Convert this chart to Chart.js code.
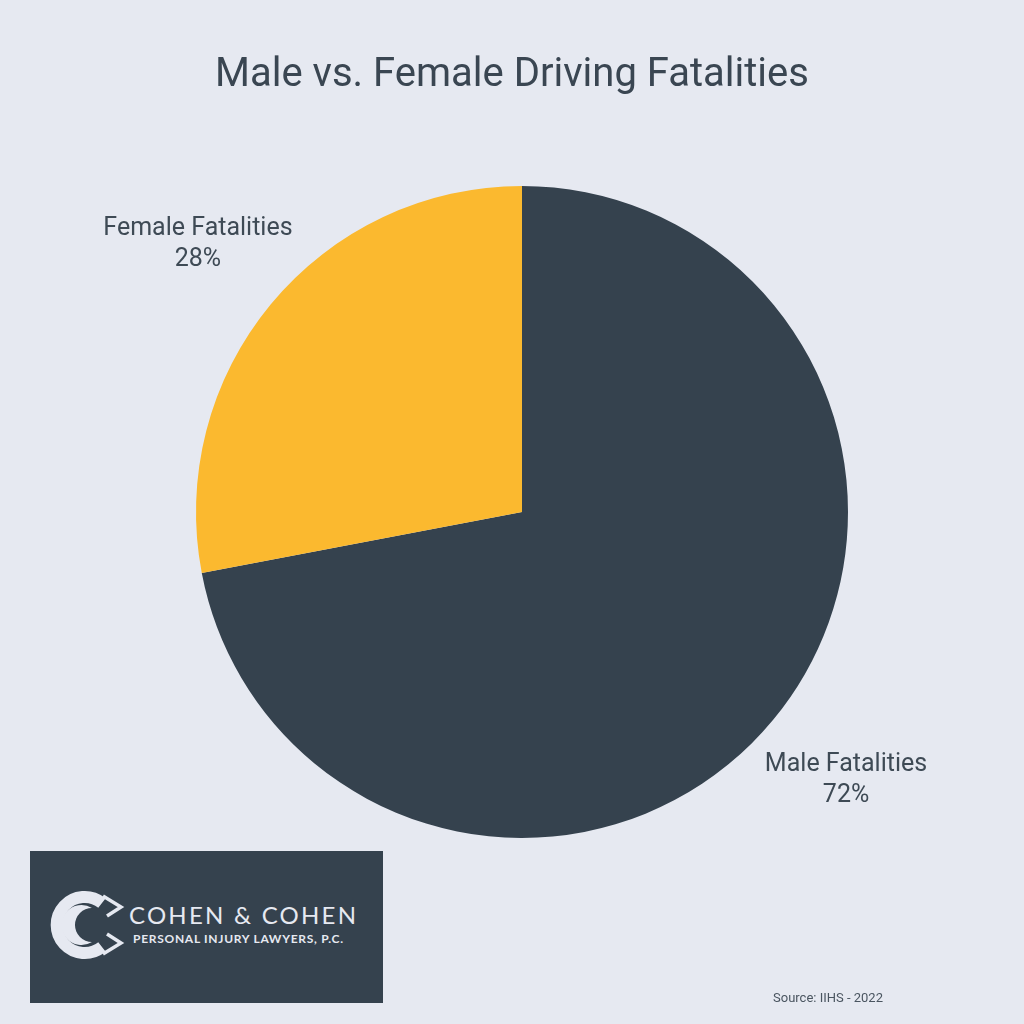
<!DOCTYPE html>
<html>
<head>
<meta charset="utf-8">
<script src="https://cdn.jsdelivr.net/npm/chart.js@4"></script>
<style>
  html, body { margin:0; padding:0; background:#E6E9F1; }
  #wrap { position:relative; width:1024px; height:1024px; }
  canvas { position:absolute; left:0; top:0; }
  #title { position:absolute; left:0; top:49px; width:1024px; text-align:center; font-family:Roboto, sans-serif; font-size:40px; line-height:48px; color:#3A4652; }
  #logo { position:absolute; left:30px; top:851px; width:353px; height:152px; background:#35424E; }
  #logo svg { position:absolute; left:0; top:0; }
  #source { position:absolute; left:773px; top:990px; font-family:Roboto, sans-serif; font-size:13px; color:#4A5560; }
</style>
</head>
<body>
<div id="wrap">
  <canvas id="c" width="1024" height="1024"></canvas>
  <div id="title"></div>
  <div id="logo">
    <svg width="353" height="152" viewBox="0 0 353 152">
      <path d="M 72 52 A 28 28 0 1 0 72 96" fill="none" stroke="#E6E9F1" stroke-width="12"/>
      <path d="M 62 57 A 20 20 0 1 0 62 91 A 15 15 0 1 1 62 57 Z" fill="#E6E9F1"/>
      <path d="M 73 45 L 91 56 L 77 65" fill="none" stroke="#E6E9F1" stroke-width="3.5"/>
      <path d="M 73 103 L 91 92 L 77 83" fill="none" stroke="#E6E9F1" stroke-width="3.5"/>
      <text x="99" y="73" font-family="Lato, 'DejaVu Sans', sans-serif" font-size="24" fill="#E6E9F1" textLength="227" lengthAdjust="spacing">COHEN &amp; COHEN</text>
      <text x="103" y="92" font-family="Lato, 'DejaVu Sans', sans-serif" font-size="12" font-weight="700" fill="#E6E9F1" textLength="210" lengthAdjust="spacing">PERSONAL INJURY LAWYERS, P.C.</text>
    </svg>
  </div>
  <div id="source">Source: IIHS - 2022</div>
</div>
<script>
const chartTitle = "Male vs. Female Driving Fatalities";
const categories = ["Male Fatalities", "Female Fatalities"];
const values = [72, 28];
const sliceColors = ["#35424E", "#FBB92F"];

document.getElementById('title').textContent = chartTitle;

const outsideLabels = {
  id: 'outsideLabels',
  afterDatasetsDraw(chart) {
    const ctx = chart.ctx;
    const meta = chart.getDatasetMeta(0);
    const total = values.reduce((a, b) => a + b, 0);
    ctx.save();
    ctx.fillStyle = "#3E4A55";
    ctx.font = "25px Roboto";
    ctx.textAlign = "center";
    ctx.textBaseline = "middle";
    meta.data.forEach((arc, i) => {
      const p = arc.getProps(['x','y','startAngle','endAngle','outerRadius'], true);
      const mid = (p.startAngle + p.endAngle) / 2;
      const r = p.outerRadius * 1.29;
      const x = p.x + Math.cos(mid) * r;
      const y = p.y + Math.sin(mid) * r;
      ctx.fillText(categories[i], x, y - 15);
      ctx.fillText(Math.round(values[i] / total * 100) + "%", x, y + 16);
    });
    ctx.restore();
  }
};

new Chart(document.getElementById('c'), {
  type: 'pie',
  data: {
    labels: categories,
    datasets: [{ data: values, backgroundColor: sliceColors, borderWidth: 0 }]
  },
  options: {
    responsive: false,
    animation: false,
    layout: { padding: { left: 196, right: 176, top: 186, bottom: 186 } },
    plugins: {
      legend: { display: false },
      tooltip: { enabled: false },
      title: { display: false }
    }
  },
  plugins: [outsideLabels]
});
</script>
</body>
</html>
